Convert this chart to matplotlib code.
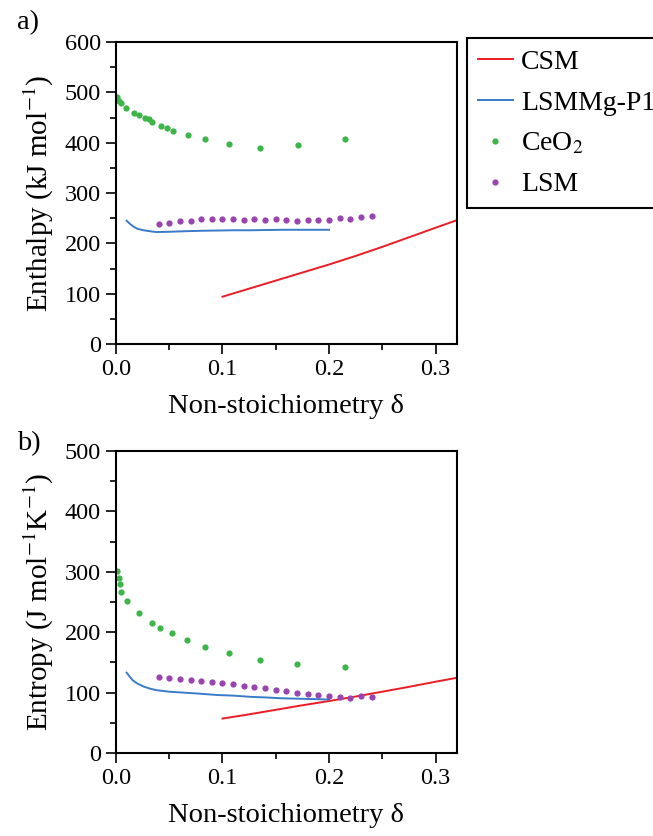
import matplotlib
matplotlib.use("Agg")
import matplotlib.pyplot as plt
from matplotlib.ticker import MultipleLocator

plt.rcParams['font.family'] = ['Liberation Serif', 'DejaVu Serif']
plt.rcParams['mathtext.fontset'] = 'stix'

# ---- data ----
ceo2_x = [0.001, 0.0025, 0.0045, 0.0095, 0.017, 0.022, 0.027, 0.031, 0.034, 0.042,
          0.048, 0.054, 0.068, 0.084, 0.106, 0.135, 0.171, 0.215]
ceo2_h = [490, 482, 478, 469, 460, 456, 450, 447, 442, 434, 430, 424, 416, 407, 398, 390, 395, 408]

ceo2_xs = [0.001, 0.0025, 0.004, 0.005, 0.010, 0.022, 0.034, 0.041, 0.053, 0.067,
           0.084, 0.106, 0.135, 0.170, 0.215]
ceo2_s = [301, 289, 279, 267, 252, 232, 216, 207, 198, 187, 176, 165, 154, 147, 143]

lsm_x = [0.040, 0.050, 0.060, 0.070, 0.080, 0.090, 0.100, 0.110, 0.120, 0.130, 0.140,
         0.150, 0.160, 0.170, 0.180, 0.190, 0.200, 0.210, 0.220, 0.230, 0.240]
lsm_h = [239, 240, 244, 244, 248, 248, 248, 248, 246, 248, 246, 248, 246, 244, 246,
         246, 246, 250, 249, 253, 254]
lsm_s = [125, 124, 122, 121, 120, 117, 116, 114, 111, 110, 107, 105, 102.5, 100, 97.6,
         96, 94, 92.6, 91, 94, 93]

lsmmg_x = [0.010, 0.013, 0.016, 0.020, 0.026, 0.032, 0.038, 0.050, 0.063, 0.080, 0.095,
           0.110, 0.126, 0.140, 0.157, 0.180, 0.200]
lsmmg_h = [245, 239, 234, 229, 226, 224, 222.5, 223, 224, 225, 225.5, 226, 226, 226.5,
           227, 227, 227]
lsmmg_s = [133, 126, 120, 115, 110, 106.5, 104, 101.5, 100, 98, 96, 95, 93, 92, 90.5, 89.5, 88.5]

csm_x = [0.10, 0.125, 0.15, 0.175, 0.20, 0.225, 0.25, 0.275, 0.30, 0.32]
csm_h = [94, 110, 126, 142, 158, 175, 193, 212, 231, 246]
csm_s = [57, 64, 71.5, 79, 86, 93.5, 101.5, 109.5, 118, 124.5]

xticks = [0.0, 0.1, 0.2, 0.3]
xticklabels = ['0.0', '0.1', '0.2', '0.3']

# ---- colours ----
RED = '#ec1c24'
BLUE = '#3a7bc8'
GREEN = '#3eb549'
PURPLE = '#9a44b0'

fig = plt.figure(figsize=(6.53, 8.36), dpi=100)
ax1 = fig.add_axes([0.1776, 0.5885, 0.522, 0.3612])
ax2 = fig.add_axes([0.1776, 0.0993, 0.522, 0.3612])


def style(ax, ymax, ymajor):
    ax.set_xlim(0, 0.32)
    ax.set_ylim(0, ymax)
    ax.set_xticks(xticks)
    ax.set_xticklabels(xticklabels)
    ax.xaxis.set_minor_locator(MultipleLocator(0.05))
    ax.yaxis.set_major_locator(MultipleLocator(ymajor))
    ax.yaxis.set_minor_locator(MultipleLocator(ymajor / 2))
    ax.tick_params(which='major', direction='out', length=7, width=1.2,
                   labelsize=17.5, pad=4)
    ax.tick_params(which='minor', direction='out', length=4, width=1.2)
    for s in ax.spines.values():
        s.set_linewidth(1.5)
    ax.set_xlabel('Non-stoichiometry δ', fontsize=20.5, labelpad=10)


l1, = ax1.plot(csm_x, csm_h, color=RED, lw=1.4, label='CSM')
l2, = ax1.plot(lsmmg_x, lsmmg_h, color=BLUE, lw=1.4, label='LSMMg-P1')
l3, = ax1.plot(ceo2_x, ceo2_h, 'o', color=GREEN, ms=4.5, mew=0, label='CeO$_2$')
l4, = ax1.plot(lsm_x, lsm_h, 'o', color=PURPLE, ms=4.5, mew=0, label='LSM')
style(ax1, 600, 100)
ax1.set_ylabel('Enthalpy (kJ mol$^{-1}$)', fontsize=21, labelpad=6)

ax2.plot(csm_x, csm_s, color=RED, lw=1.4)
ax2.plot(lsmmg_x, lsmmg_s, color=BLUE, lw=1.4)
ax2.plot(ceo2_xs, ceo2_s, 'o', color=GREEN, ms=4.5, mew=0)
ax2.plot(lsm_x, lsm_s, 'o', color=PURPLE, ms=4.5, mew=0)
style(ax2, 500, 100)
ax2.set_ylabel('Entropy (J mol$^{-1}$K$^{-1}$)', fontsize=21, labelpad=6)

fig.text(0.026, 0.988, 'a)', fontsize=20.5, va='top', ha='left')
fig.text(0.026, 0.484, 'b)', fontsize=20.5, va='top', ha='left')

leg = fig.legend(handles=[l1, l2, l3, l4], loc='upper left',
                 bbox_to_anchor=(0.715, 0.954), borderaxespad=0, fontsize=20,
                 frameon=True, fancybox=False, edgecolor='black', framealpha=1,
                 handlelength=1.25, labelspacing=0.55, borderpad=0.4,
                 handletextpad=0.3)
leg.get_frame().set_linewidth(1.5)

fig.savefig('out.png', dpi=100)
